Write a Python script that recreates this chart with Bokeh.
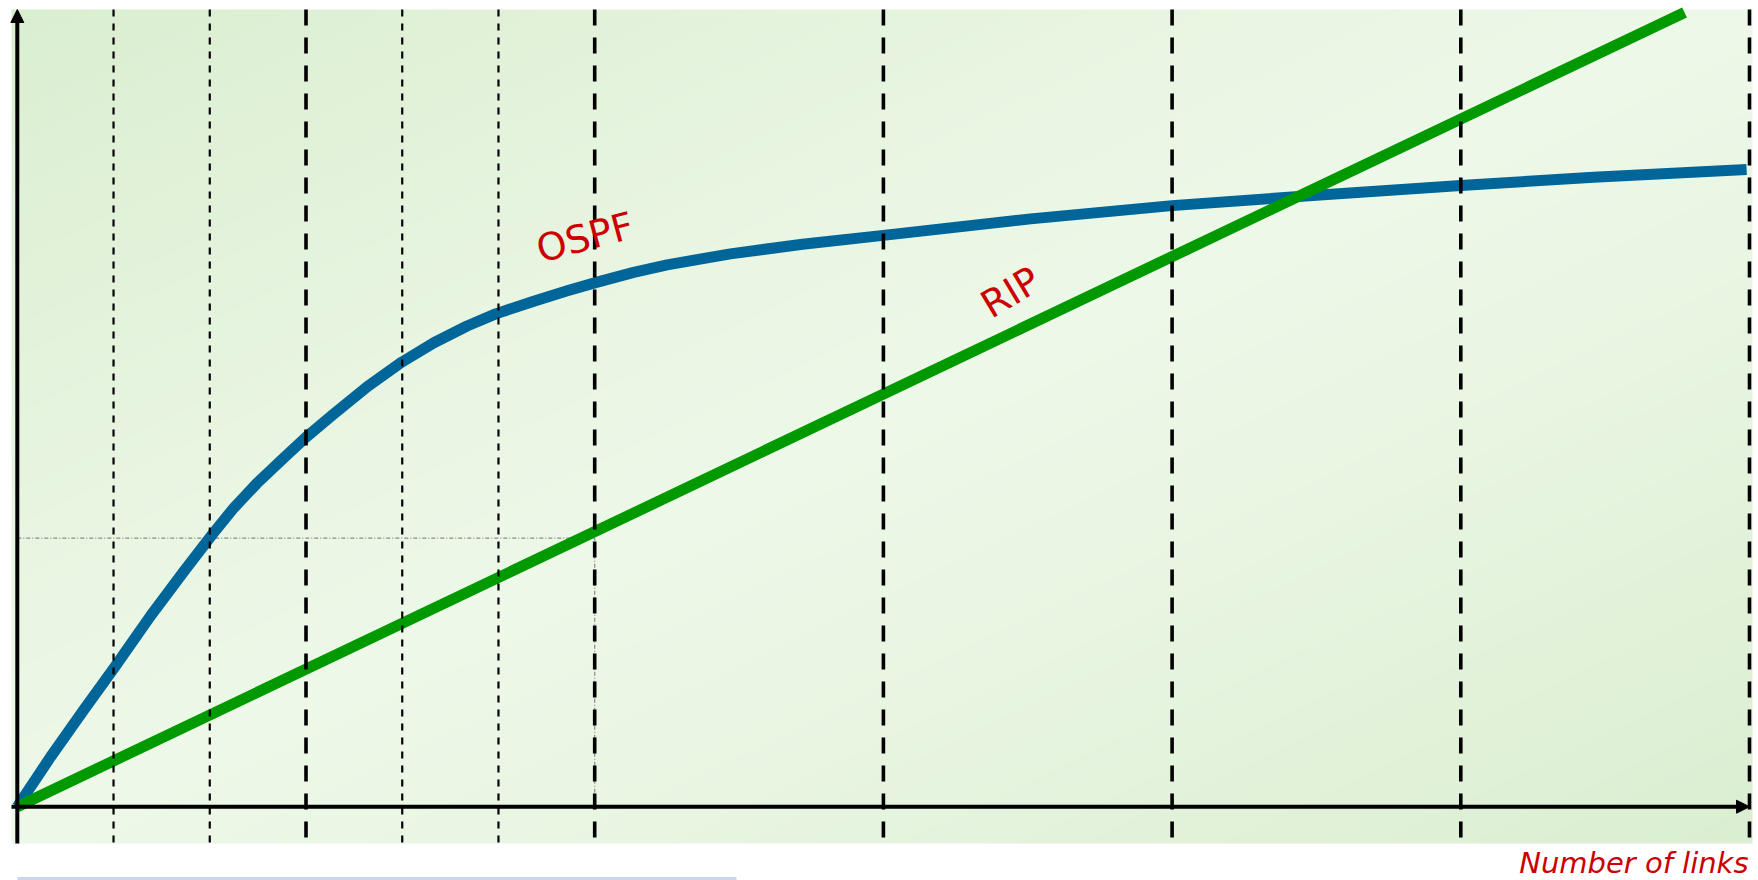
import numpy as np
from bokeh.plotting import figure
from bokeh.models import Range1d, Arrow, NormalHead
from bokeh.core.properties import value
from bokeh.embed import file_html
from bokeh.resources import INLINE

# ---------------- data (links in "units", load in same units) ----------------
ospf_links = [0, 0.115, 0.23, 0.337, 0.461, 0.577, 0.677, 0.75, 0.83, 0.92, 1.0, 1.096,
              1.212, 1.332, 1.443, 1.558, 1.657, 1.789, 1.905, 2.009, 2.135, 2.251, 2.47,
              2.72, 3.0, 3.51, 4.0, 4.5, 5.0, 5.46, 5.99]
ospf_load = [0, 0.172, 0.335, 0.483, 0.66, 0.815, 0.945, 1.035, 1.12, 1.205, 1.28, 1.36,
             1.455, 1.54, 1.607, 1.665, 1.707, 1.751, 1.787, 1.817, 1.851, 1.877, 1.915,
             1.948, 1.979, 2.036, 2.082, 2.118, 2.152, 2.18, 2.207]
rip_links = [0.0, 5.775]
rip_load = [0.0, 2.751]
major_ticks = [1, 2, 3, 4, 5, 6]
minor_ticks = [1 / 3, 2 / 3, 4 / 3, 5 / 3]
ref_links = 2.0
ref_level = 0.93
x_label = "Number of links"
labels = ["OSPF", "RIP"]

# ---------------- layout helpers (pixel -> data) ----------------
W, H = 1758, 880
OX, OY = 16.8, 806.2
UNIT = 288.7


def dx(px):
    return (px - OX) / UNIT


def dy(py):
    return (OY - py) / UNIT


p = figure(width=W, height=H, x_range=Range1d(dx(0), dx(W)), y_range=Range1d(dy(H), dy(0)),
           output_backend="svg", toolbar_location=None, min_border=0,
           x_axis_location=None, y_axis_location=None, outline_line_color=None,
           background_fill_color="white", border_fill_color="white")
p.grid.grid_line_color = None

# background gradient
nx, ny = 436, 209
u = np.linspace(0, 1, nx)[None, :]
v = np.linspace(0, 1, ny)[:, None]
t = (u + (1 - v)) / 2.0
s = np.clip(np.abs(t - 0.5) * 2.0, 0, 1) ** 1.2
light = np.array([237, 248, 232], dtype=float)
dark = np.array([218, 238, 208], dtype=float)
img = np.empty((ny, nx), dtype=np.uint32)
view = img.view(dtype=np.uint8).reshape((ny, nx, 4))
for k in range(3):
    view[:, :, k] = np.round(light[k] + (dark[k] - light[k]) * s).astype(np.uint8)
view[:, :, 3] = 255
bg_l, bg_r, bg_t, bg_b = dx(11), dx(1752), dy(9), dy(843)
p.image_rgba(image=[img], x=bg_l, y=bg_b, dw=bg_r - bg_l, dh=bg_t - bg_b)

# bottom light-blue bar
p.quad(left=dx(17), right=dx(736), bottom=dy(880), top=dy(876.5),
       fill_color="#c9d7ec", line_color=None)

# dotted reference lines
p.line(x=[0, ref_links, ref_links], y=[ref_level, ref_level, 0],
       line_color="#8a8a8a", line_width=1.2, line_dash="4 2 1 2")
p.line(x=[0, 0], y=[0, ref_level], line_color="#8a8a8a", line_width=1.2, line_dash="4 2 1 2")

# curves
p.line(x=ospf_links, y=ospf_load, line_color="#006699", line_width=11, line_join="round")
p.line(x=rip_links, y=rip_load, line_color="#009900", line_width=11)

# vertical dashed lines
p.segment(x0=minor_ticks, y0=[bg_t] * len(minor_ticks), x1=minor_ticks, y1=[bg_b] * len(minor_ticks),
          line_color="black", line_width=2.2, line_dash="7 7")
p.segment(x0=major_ticks, y0=[bg_t] * len(major_ticks), x1=major_ticks, y1=[bg_b] * len(major_ticks),
          line_color="black", line_width=3.6, line_dash="16 12")

# axes with arrows
head_y = NormalHead(size=13, fill_color="black", line_color="black", line_width=1)
head_x = NormalHead(size=13, fill_color="black", line_color="black", line_width=1)
p.add_layout(Arrow(end=head_y, x_start=0, y_start=bg_b, x_end=0, y_end=dy(9),
                   line_color="black", line_width=4))
p.add_layout(Arrow(end=head_x, x_start=bg_l, y_start=0, x_end=dx(1749), y_end=0,
                   line_color="black", line_width=4))

# labels
p.text(x=[dx(584.5)], y=[dy(237)], text=[labels[0]], angle=np.radians(15),
       text_align="center", text_baseline="middle", text_font=value("DejaVu Sans"),
       text_font_size="38px", text_color="#cc0000")
p.text(x=[dx(1010)], y=[dy(292)], text=[labels[1]], angle=np.radians(31),
       text_align="center", text_baseline="middle", text_font=value("DejaVu Sans"),
       text_font_size="38px", text_color="#cc0000")
p.text(x=[dx(1748)], y=[dy(862.5)], text=[x_label], text_align="right",
       text_baseline="middle", text_font=value("DejaVu Sans"), text_font_style="italic",
       text_font_size="29px", text_color="#cc0000")

open("out.html", "w").write(file_html(p, INLINE))
